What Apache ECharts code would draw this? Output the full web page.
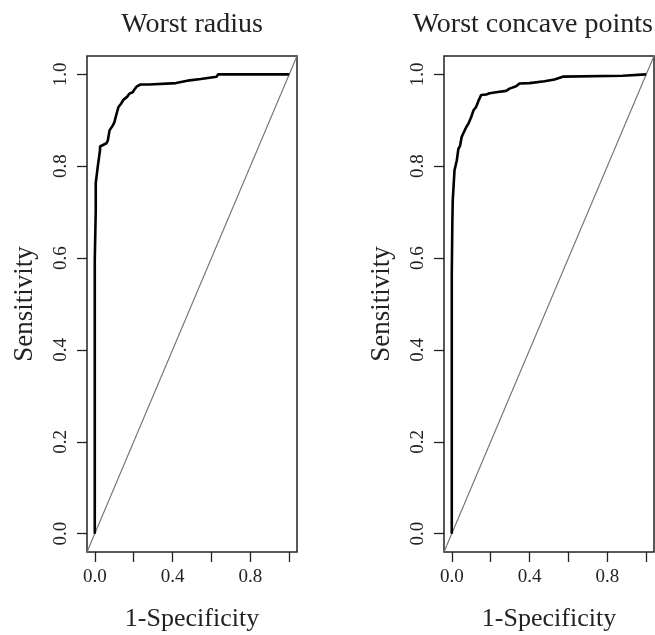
<!DOCTYPE html>
<html>
<head>
<meta charset="utf-8">
<script src="https://cdn.jsdelivr.net/npm/echarts@6/dist/echarts.min.js"></script>
<style>
  html, body { margin: 0; padding: 0; background: #fff; }
  #chart { width: 655px; height: 635px; }
</style>
</head>
<body>
<div id="chart"></div>
<script>
// ROC curve points (1-specificity, sensitivity)
const radiusFpr = [0, 0, 0.005, 0.005, 0.005, 0.015, 0.027, 0.027, 0.06, 0.067, 0.076, 0.093, 0.101, 0.11, 0.122, 0.135, 0.148, 0.166, 0.178, 0.195, 0.207, 0.217, 0.235, 0.281, 0.284, 0.418, 0.423, 0.488, 0.495, 0.545, 0.549, 0.627, 0.634, 1.0];
const radiusTpr = [0, 0.595, 0.595, 0.704, 0.763, 0.798, 0.835, 0.843, 0.85, 0.856, 0.878, 0.889, 0.896, 0.911, 0.929, 0.936, 0.945, 0.951, 0.958, 0.961, 0.969, 0.974, 0.978, 0.978, 0.981, 0.981, 0.985, 0.987, 0.990, 0.990, 0.994, 0.995, 1.0, 1.0];

const concaveFpr = [0, 0, 0.003, 0.003, 0.005, 0.014, 0.026, 0.034, 0.043, 0.051, 0.062, 0.074, 0.086, 0.1, 0.112, 0.125, 0.139, 0.151, 0.177, 0.194, 0.228, 0.237, 0.28, 0.297, 0.331, 0.348, 0.4, 0.408, 0.477, 0.528, 0.533, 0.571, 0.879, 0.883, 1.0];
const concaveTpr = [0, 0.562, 0.562, 0.68, 0.726, 0.791, 0.813, 0.838, 0.845, 0.864, 0.874, 0.885, 0.893, 0.907, 0.922, 0.929, 0.944, 0.955, 0.956, 0.959, 0.961, 0.964, 0.964, 0.969, 0.974, 0.980, 0.981, 0.985, 0.985, 0.989, 0.993, 0.995, 0.997, 1.0, 1.0];

// reference line y = x across the whole plot region
const diagX = [-0.04, 1.04];
const diagY = [-0.04, 1.04];

const xTicks = [0, 0.2, 0.4, 0.6, 0.8, 1.0];
const xLabels = [0, 0.4, 0.8];
const yTicks = [0, 0.2, 0.4, 0.6, 0.8, 1.0];

const titles = ['Worst radius', 'Worst concave points'];
const xName = '1-Specificity';
const yName = 'Sensitivity';

const font = 'Liberation Serif';
const ink = '#222';

const pairs = (xs, ys) => xs.map((x, i) => [x, ys[i]]);

// the right title is too wide to be centred, so it is pinned to the right edge
const panels = [
  { left: 87, fpr: radiusFpr, tpr: radiusTpr, titleX: 192, titleAlign: 'center' },
  { left: 444, fpr: concaveFpr, tpr: concaveTpr, titleX: 653, titleAlign: 'right' }
];
const W = 210, TOP = 56, H = 496;

const chart = echarts.init(document.getElementById('chart'), null, { renderer: 'canvas' });

const option = {
  backgroundColor: '#fff',
  animation: false,
  grid: panels.map(p => ({
    left: p.left, top: TOP, width: W, height: H,
    show: true, borderColor: ink, borderWidth: 1.5, backgroundColor: 'transparent'
  })),
  xAxis: panels.map((p, i) => ({
    type: 'value', gridIndex: i, min: -0.04, max: 1.04,
    splitLine: { show: false },
    axisLine: { show: false, onZero: false },
    axisTick: { show: true, length: 10, customValues: xTicks, lineStyle: { color: ink, width: 1.3 } },
    axisLabel: {
      customValues: xLabels, formatter: v => v.toFixed(1), margin: 16,
      fontFamily: font, fontSize: 19, color: ink
    }
  })),
  yAxis: panels.map((p, i) => ({
    type: 'value', gridIndex: i, min: -0.04, max: 1.04,
    splitLine: { show: false },
    axisLine: { show: false, onZero: false },
    axisTick: { show: true, length: 10, customValues: yTicks, lineStyle: { color: ink, width: 1.3 } },
    axisLabel: {
      customValues: yTicks, formatter: v => v.toFixed(1), margin: 16, rotate: 90,
      fontFamily: font, fontSize: 19, color: ink
    }
  })),
  series: [].concat(...panels.map((p, i) => [
    {
      type: 'line', xAxisIndex: i, yAxisIndex: i, data: pairs(diagX, diagY),
      symbol: 'none', lineStyle: { color: '#707070', width: 1.1 }, silent: true
    },
    {
      type: 'line', xAxisIndex: i, yAxisIndex: i, data: pairs(p.fpr, p.tpr),
      symbol: 'none', lineStyle: { color: '#000', width: 2.6 }
    }
  ])),
  graphic: [].concat(...panels.map((p, i) => {
    const cx = p.left + W / 2;
    return [
      { type: 'text', x: p.titleX, y: 25, style: { text: titles[i], font: '28px ' + font, fill: ink, textAlign: p.titleAlign, textVerticalAlign: 'middle' } },
      { type: 'text', x: cx, y: 619, style: { text: xName, font: '26px ' + font, fill: ink, textAlign: 'center', textVerticalAlign: 'middle' } },
      { type: 'text', x: p.left - 62, y: TOP + H / 2, rotation: Math.PI / 2, style: { text: yName, font: '27px ' + font, fill: ink, textAlign: 'center', textVerticalAlign: 'middle' } }
    ];
  }))
};

chart.setOption(option);
</script>
</body>
</html>
